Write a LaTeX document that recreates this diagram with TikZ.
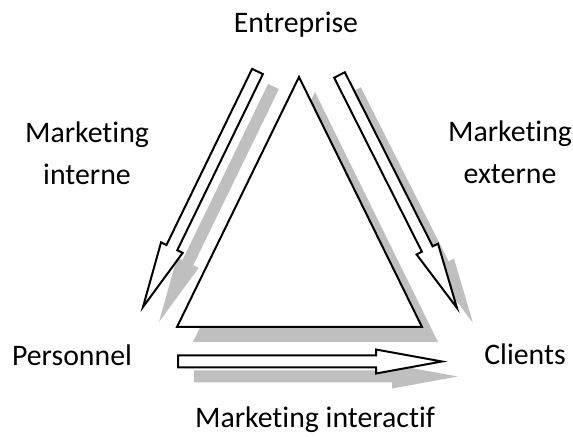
\documentclass[tikz,border=0pt]{standalone}
\usepackage{fontspec}
\setmainfont{Carlito}[RawFeature={-liga;-clig;-calt;-dlig}]
\usetikzlibrary{calc}
\definecolor{ShadowGray}{HTML}{BFBFBF}

% hollow block arrow: start, end, style
\newcommand{\hollowarrow}[3]{%
  \coordinate (hb) at ($(#2)!33pt!(#1)$);
  \path[#3] ($(#1)!3pt!90:(#2)$) -- ($(hb)!3pt!90:(#2)$) -- ($(hb)!6pt!90:(#2)$) -- (#2)
    -- ($(hb)!6pt!-90:(#2)$) -- ($(hb)!3pt!-90:(#2)$) -- ($(#1)!3pt!-90:(#2)$) -- cycle;
}

\begin{document}
\begin{tikzpicture}[x=0.5pt, y=-0.5pt,
    lbl/.style={inner sep=0pt, anchor=base, align=center,
                font=\fontsize{14.9}{21}\selectfont},
    shade/.style={fill=ShadowGray, draw=none},
    outline/.style={fill=white, draw=black, line width=1pt, line join=miter}]
    \useasboundingbox (0,0) rectangle (573,437);

    % corners of the triangle
    \coordinate (top) at (299,77);
    \coordinate (bl) at (177,327);
    \coordinate (br) at (422,327);

    % arrow ends
    \coordinate (intS) at (257.5,71.5);
    \coordinate (intE) at (143,307);
    \coordinate (extS) at (339.5,75);
    \coordinate (extE) at (457,308);
    \coordinate (actS) at (178,361.5);
    \coordinate (actE) at (442,361.5);

    % shadows
    \begin{scope}[transform canvas={shift={(8pt,-7.5pt)}}]
        \fill[ShadowGray] (top) -- (bl) -- (br) -- cycle;
        \hollowarrow{intS}{intE}{shade}
        \hollowarrow{extS}{extE}{shade}
        \hollowarrow{actS}{actE}{shade}
    \end{scope}

    \path[outline] (top) -- (bl) -- (br) -- cycle;
    \hollowarrow{intS}{intE}{outline}
    \hollowarrow{extS}{extE}{outline}
    \hollowarrow{actS}{actE}{outline}

    % labels
    \node[lbl] (ent) at (296,33) {Entreprise};
    \node[lbl] (mint) at (87,185) {Marketing\\interne};
    \node[lbl] (mext) at (510,184) {Marketing\\externe};
    \node[lbl] (pers) at (72,366) {Personnel};
    \node[lbl] (cli) at (525,365) {Clients};
    \node[lbl] (mact) at (315,428) {Marketing interactif};
\end{tikzpicture}
\end{document}
